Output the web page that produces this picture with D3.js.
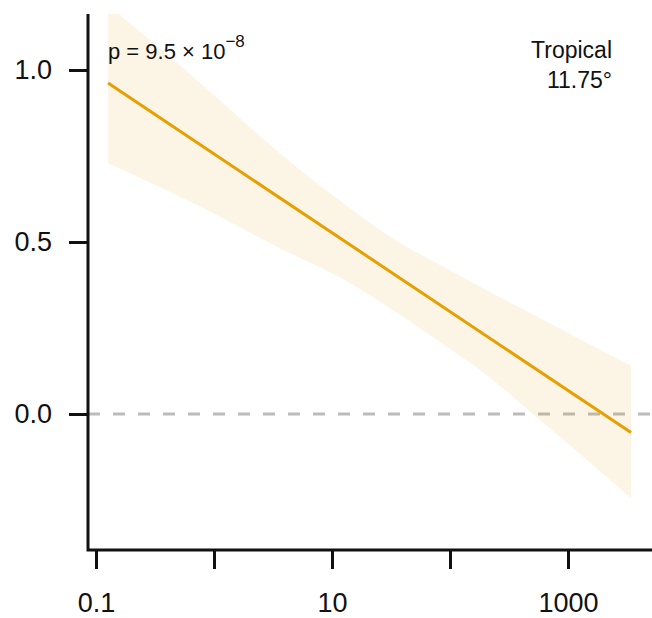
<!DOCTYPE html>
<html>
<head>
<meta charset="utf-8">
<script src="https://cdn.jsdelivr.net/npm/d3@7"></script>
<style>
  body { margin: 0; background: #fff; }
  text { font-family: "Liberation Sans", Arial, Helvetica, sans-serif; fill: #111; }
</style>
</head>
<body>
<svg id="canvas"></svg>
<script>
// fitted line (log x)
const fitX = [0.1265, 3420];
const fitY = [0.962, -0.054];

// confidence band
const bandX = [0.1265, 0.761, 3.62, 13.1, 37.7, 100, 180, 505, 3420];
const bandUpper = [1.189, 0.963, 0.758, 0.607, 0.497, 0.418, 0.370, 0.289, 0.140];
const bandLower = [0.729, 0.603, 0.482, 0.387, 0.288, 0.189, 0.128, 0.000, -0.245];

const xTicks = [0.1, 1, 10, 100, 1000];
const xLabels = ["0.1", "", "10", "", "1000"];
const yTicks = [0, 0.5, 1];
const yLabels = ["0.0", "0.5", "1.0"];

const width = 652;
const height = 618;
const plot = { left: 88, top: 14, right: 652, bottom: 550 };

const svg = d3.select("#canvas")
  .attr("width", width)
  .attr("height", height);

const x = d3.scaleLog()
  .domain([0.1, 1000])
  .range([96, 568]);

const y = d3.scaleLinear()
  .domain([0, 1])
  .range([414, 70]);

svg.append("defs").append("clipPath")
  .attr("id", "plotclip")
  .append("rect")
  .attr("x", plot.left)
  .attr("y", plot.top)
  .attr("width", plot.right - plot.left)
  .attr("height", plot.bottom - plot.top);

const chartArea = svg.append("g").attr("clip-path", "url(#plotclip)");

// zero reference line
chartArea.append("line")
  .attr("x1", plot.left)
  .attr("x2", plot.right)
  .attr("y1", y(0))
  .attr("y2", y(0))
  .attr("stroke", "#bbbbbb")
  .attr("stroke-width", 3)
  .attr("stroke-dasharray", "12,13");

const bandData = bandX.map((d, i) => ({ x: d, lo: bandLower[i], hi: bandUpper[i] }));

chartArea.append("path")
  .datum(bandData)
  .attr("fill", "#E69F00")
  .attr("fill-opacity", 0.1)
  .attr("d", d3.area()
    .x(d => x(d.x))
    .y0(d => y(d.lo))
    .y1(d => y(d.hi))
    .curve(d3.curveMonotoneX));

const fitData = fitX.map((d, i) => ({ x: d, y: fitY[i] }));

chartArea.append("path")
  .datum(fitData)
  .attr("fill", "none")
  .attr("stroke", "#E69F00")
  .attr("stroke-width", 3)
  .attr("d", d3.line().x(d => x(d.x)).y(d => y(d.y)));

// axes
const xAxis = d3.axisBottom(x)
  .tickValues(xTicks)
  .tickFormat((d, i) => xLabels[i])
  .tickSize(19)
  .tickPadding(24)
  .tickSizeOuter(0);

const gx = svg.append("g")
  .attr("transform", `translate(0, ${plot.bottom})`)
  .call(xAxis);
gx.select(".domain").remove();
gx.selectAll(".tick line").attr("stroke", "#111").attr("stroke-width", 3);
gx.selectAll(".tick text").attr("font-size", 27).style("font-family", "Liberation Sans, Arial, sans-serif");

const yAxis = d3.axisLeft(y)
  .tickValues(yTicks)
  .tickFormat((d, i) => yLabels[i])
  .tickSize(19)
  .tickPadding(17)
  .tickSizeOuter(0);

const gy = svg.append("g")
  .attr("transform", `translate(${plot.left}, 0)`)
  .call(yAxis);
gy.select(".domain").remove();
gy.selectAll(".tick line").attr("stroke", "#111").attr("stroke-width", 3);
gy.selectAll(".tick text").attr("font-size", 27).style("font-family", "Liberation Sans, Arial, sans-serif");

svg.append("path")
  .attr("d", `M${plot.left},${plot.top}V${plot.bottom}H${plot.right}`)
  .attr("fill", "none")
  .attr("stroke", "#111")
  .attr("stroke-width", 3);

// annotations
const pText = svg.append("text")
  .attr("x", 108)
  .attr("y", 59)
  .attr("font-size", 22);
pText.append("tspan").text("p = 9.5 \u00d7 10");
pText.append("tspan").attr("font-size", 17).attr("dy", -12).text("\u22128");

svg.append("text")
  .attr("x", 612)
  .attr("y", 58)
  .attr("text-anchor", "end")
  .attr("font-size", 23)
  .text("Tropical");

svg.append("text")
  .attr("x", 612)
  .attr("y", 88)
  .attr("text-anchor", "end")
  .attr("font-size", 23)
  .text("11.75\u00b0");
</script>
</body>
</html>
